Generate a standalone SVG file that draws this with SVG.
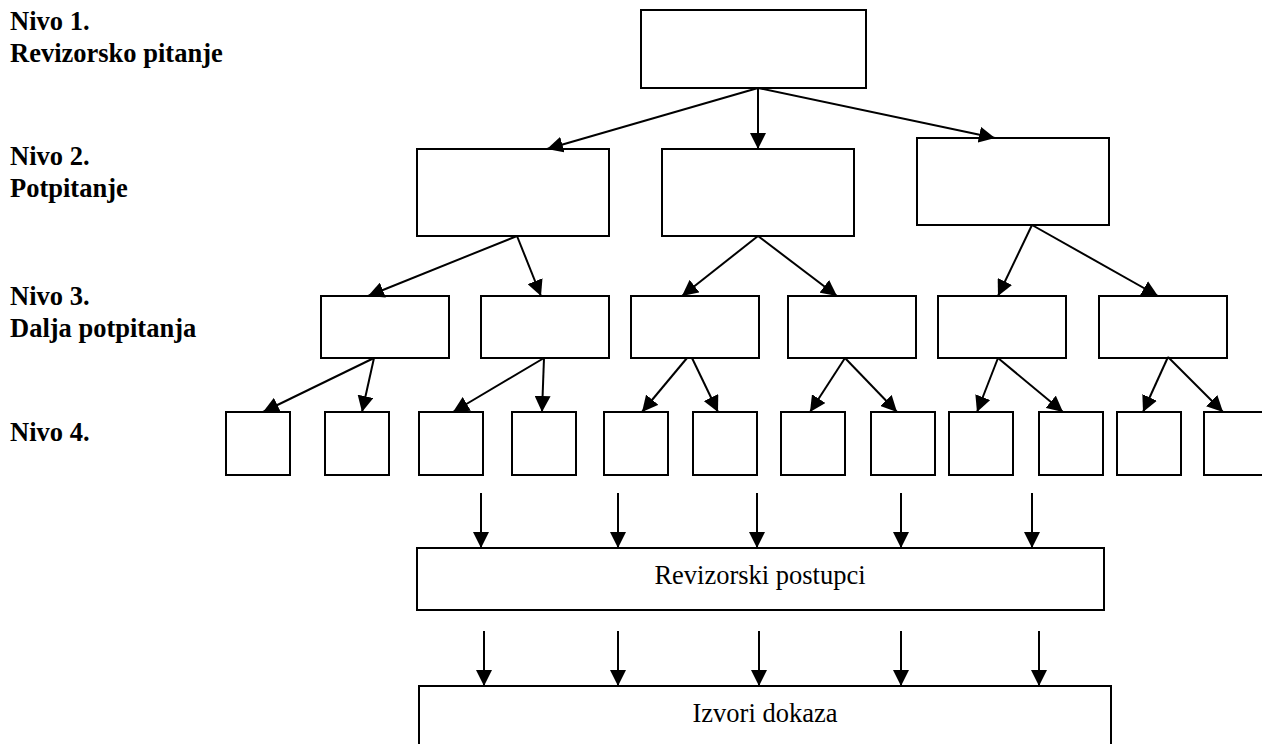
<svg xmlns="http://www.w3.org/2000/svg" width="1262" height="744" viewBox="0 0 1262 744">
<style>
.box{fill:#fff;stroke:#000;stroke-width:2}
.lbl{font-family:"Liberation Serif","Times New Roman",serif;font-size:26.5px;font-weight:bold;fill:#000}
.txt{font-family:"Liberation Serif","Times New Roman",serif;font-size:26.5px;fill:#000;text-anchor:middle}
.con line{stroke:#000;stroke-width:2;marker-end:url(#ah)}
</style>
<defs>
<marker id="ah" markerUnits="userSpaceOnUse" viewBox="0 0 16 16" refX="16" refY="8" markerWidth="16" markerHeight="16" orient="auto">
<path d="M0,0 L16,8 L0,16 z" fill="#000"/>
</marker>
</defs>
<rect width="1262" height="744" fill="#fff"/>
<g id="labels">
<text class="lbl" x="10" y="30">Nivo 1.</text>
<text class="lbl" x="10" y="62">Revizorsko pitanje</text>
<text class="lbl" x="10" y="165">Nivo 2.</text>
<text class="lbl" x="10" y="197">Potpitanje</text>
<text class="lbl" x="10" y="305">Nivo 3.</text>
<text class="lbl" x="10" y="337">Dalja potpitanja</text>
<text class="lbl" x="10" y="441">Nivo 4.</text>
</g>
<g id="n1"><rect class="box" x="641" y="10" width="225" height="78"/></g>
<g id="n2a"><rect class="box" x="417" y="149" width="192" height="87"/></g>
<g id="n2b"><rect class="box" x="662" y="149" width="192" height="87"/></g>
<g id="n2c"><rect class="box" x="917" y="138" width="192" height="87"/></g>
<g id="n3a"><rect class="box" x="321" y="296" width="128" height="62"/></g>
<g id="n3b"><rect class="box" x="481" y="296" width="128" height="62"/></g>
<g id="n3c"><rect class="box" x="631" y="296" width="128" height="62"/></g>
<g id="n3d"><rect class="box" x="788" y="296" width="128" height="62"/></g>
<g id="n3e"><rect class="box" x="938" y="296" width="128" height="62"/></g>
<g id="n3f"><rect class="box" x="1099" y="296" width="128" height="62"/></g>
<g id="n4a"><rect class="box" x="226" y="412" width="64" height="63"/></g>
<g id="n4b"><rect class="box" x="325" y="412" width="64" height="63"/></g>
<g id="n4c"><rect class="box" x="419" y="412" width="64" height="63"/></g>
<g id="n4d"><rect class="box" x="512" y="412" width="64" height="63"/></g>
<g id="n4e"><rect class="box" x="604" y="412" width="64" height="63"/></g>
<g id="n4f"><rect class="box" x="693" y="412" width="64" height="63"/></g>
<g id="n4g"><rect class="box" x="781" y="412" width="64" height="63"/></g>
<g id="n4h"><rect class="box" x="871" y="412" width="64" height="63"/></g>
<g id="n4i"><rect class="box" x="949" y="412" width="64" height="63"/></g>
<g id="n4j"><rect class="box" x="1039" y="412" width="64" height="63"/></g>
<g id="n4k"><rect class="box" x="1117" y="412" width="64" height="63"/></g>
<g id="n4l"><rect class="box" x="1204" y="412" width="64" height="63"/></g>
<g id="postupci"><rect class="box" x="417" y="548" width="687" height="62"/><text class="txt" x="760" y="584">Revizorski postupci</text></g>
<g id="dokazi"><rect class="box" x="419" y="686" width="692" height="80"/><text class="txt" x="765" y="722">Izvori dokaza</text></g>
<g id="connectors" class="con">
<line x1="758" y1="88" x2="547" y2="149"/>
<line x1="758" y1="88" x2="758" y2="149"/>
<line x1="758" y1="88" x2="995" y2="138"/>
<line x1="517" y1="236" x2="368" y2="296"/>
<line x1="517" y1="236" x2="541" y2="296"/>
<line x1="758" y1="236" x2="682" y2="296"/>
<line x1="758" y1="236" x2="837" y2="296"/>
<line x1="1032" y1="225" x2="998" y2="296"/>
<line x1="1032" y1="225" x2="1158" y2="296"/>
<line x1="374" y1="358" x2="263" y2="412"/>
<line x1="374" y1="358" x2="362" y2="412"/>
<line x1="544" y1="358" x2="453" y2="412"/>
<line x1="544" y1="358" x2="542" y2="412"/>
<line x1="687" y1="358" x2="642" y2="412"/>
<line x1="692" y1="358" x2="718" y2="412"/>
<line x1="845" y1="358" x2="810" y2="412"/>
<line x1="845" y1="358" x2="897" y2="412"/>
<line x1="998" y1="358" x2="977" y2="412"/>
<line x1="998" y1="358" x2="1063" y2="412"/>
<line x1="1168" y1="357" x2="1143" y2="412"/>
<line x1="1168" y1="357" x2="1223" y2="412"/>
<line x1="481" y1="493" x2="481" y2="548"/>
<line x1="618" y1="493" x2="618" y2="548"/>
<line x1="757" y1="493" x2="757" y2="548"/>
<line x1="901" y1="493" x2="901" y2="548"/>
<line x1="1032" y1="493" x2="1032" y2="548"/>
<line x1="484" y1="631" x2="484" y2="686"/>
<line x1="618" y1="631" x2="618" y2="686"/>
<line x1="759" y1="631" x2="759" y2="686"/>
<line x1="901" y1="631" x2="901" y2="686"/>
<line x1="1039" y1="631" x2="1039" y2="686"/>
</g>
</svg>
